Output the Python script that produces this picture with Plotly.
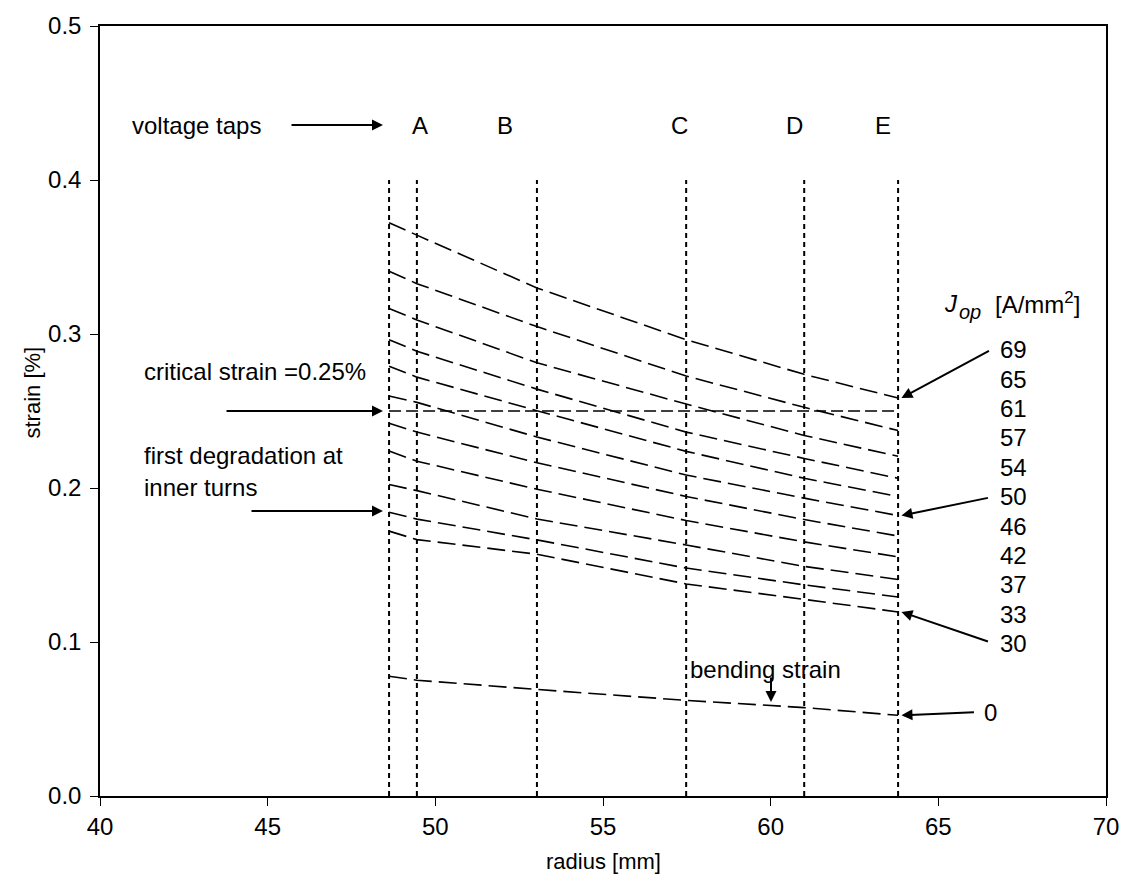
import plotly.graph_objects as go

# Radial positions (mm): winding start and voltage taps A-E
radius = [48.62, 49.45, 53.03, 57.48, 61.0, 63.8]
tap_lines = [48.62, 49.45, 53.03, 57.48, 61.0, 63.8]
tap_names = ["A", "B", "C", "D", "E"]
tap_label_x = [49.54, 52.08, 57.27, 60.70, 63.35]

# Operating current densities (A/mm^2) and strain (%) along the radius
j_op = [69, 65, 61, 57, 54, 50, 46, 42, 37, 33, 30]
strain_69 = [0.3723, 0.3642, 0.3299, 0.2963, 0.2738, 0.2584]
strain_65 = [0.3408, 0.3327, 0.3048, 0.2727, 0.2524, 0.2373]
strain_61 = [0.3166, 0.3091, 0.2813, 0.2545, 0.2341, 0.2206]
strain_57 = [0.2963, 0.2888, 0.2642, 0.2363, 0.2192, 0.2063]
strain_54 = [0.2791, 0.2720, 0.2502, 0.2238, 0.2063, 0.1945]
strain_50 = [0.2598, 0.2556, 0.2331, 0.2084, 0.1934, 0.1821]
strain_46 = [0.2421, 0.2363, 0.2164, 0.1945, 0.1795, 0.1688]
strain_42 = [0.2241, 0.2174, 0.1992, 0.1789, 0.1650, 0.1553]
strain_37 = [0.2023, 0.1983, 0.1799, 0.1630, 0.1491, 0.1406]
strain_33 = [0.1843, 0.1798, 0.1663, 0.1480, 0.1371, 0.1292]
strain_30 = [0.1720, 0.1665, 0.1570, 0.1377, 0.1277, 0.1195]
strain_0 = [0.0778, 0.0752, 0.0692, 0.0621, 0.0574, 0.0524]

critical_strain = 0.25
first_degradation = 0.185

curves = [strain_69, strain_65, strain_61, strain_57, strain_54, strain_50,
          strain_46, strain_42, strain_37, strain_33, strain_30]

FONT = "Liberation Sans, Arial, sans-serif"
BLACK = "#000000"
FS = 24

fig = go.Figure()

# voltage tap positions (dotted verticals)
vx, vy = [], []
for r in tap_lines:
    vx += [r, r, None]
    vy += [0, 0.4, None]
fig.add_trace(go.Scatter(x=vx, y=vy, mode="lines",
                         line=dict(color=BLACK, width=2, dash="5px,4px"),
                         hoverinfo="skip", showlegend=False))

# strain profiles for each operating current density
for j, s in zip(j_op, curves):
    fig.add_trace(go.Scatter(x=radius, y=s, mode="lines", name=f"{j} A/mm²",
                             line=dict(color=BLACK, width=1.6, dash="18px,7px"),
                             showlegend=False))
fig.add_trace(go.Scatter(x=radius, y=strain_0, mode="lines", name="0 A/mm²",
                         line=dict(color=BLACK, width=1.6, dash="18px,7px"),
                         showlegend=False))

# critical strain level
fig.add_trace(go.Scatter(x=[tap_lines[0], tap_lines[-1]],
                         y=[critical_strain, critical_strain], mode="lines",
                         line=dict(color=BLACK, width=1.6, dash="12px,5px"),
                         hoverinfo="skip", showlegend=False))

annotations = []
txt = dict(font=dict(family=FONT, size=FS, color=BLACK), showarrow=False)

annotations.append(dict(x=40.89, y=0.4357, text="voltage taps", xanchor="left", **txt))
for name, xl in zip(tap_names, tap_label_x):
    annotations.append(dict(x=xl, y=0.4357, text=name, **txt))
annotations.append(dict(x=41.25, y=0.2757, text="critical strain =0.25%", xanchor="left", **txt))
annotations.append(dict(x=41.25, y=0.2212, text="first degradation at", xanchor="left", **txt))
annotations.append(dict(x=41.25, y=0.2006, text="inner turns", xanchor="left", **txt))
annotations.append(dict(x=57.54, y=0.0823, text="bending strain", xanchor="left", **txt))

# J_op heading with a full-size lowered subscript
annotations.append(dict(x=65.10, y=0.3200, text="<i>J</i>", xanchor="left", **txt))
annotations.append(dict(x=65.57, y=0.3140, text="<i>op</i>", xanchor="left",
                        font=dict(family=FONT, size=20, color=BLACK), showarrow=False))
annotations.append(dict(x=66.62, y=0.3200, text="[A/mm<sup>2</sup>]", xanchor="left", **txt))

# current density labels on the right
label_y0, label_dy = 0.2898, 0.01909
for i, j in enumerate(j_op):
    annotations.append(dict(x=67.23, y=label_y0 - i * label_dy, text=str(j), **txt))
annotations.append(dict(x=66.55, y=0.0545, text="0", **txt))

# axis titles
annotations.append(dict(x=0, xref="paper", xshift=-67, y=0.262, yref="y",
                        text="strain [%]", textangle=-90, showarrow=False,
                        xanchor="center", yanchor="middle",
                        font=dict(family=FONT, size=22, color=BLACK)))
annotations.append(dict(x=0.5, xref="paper", y=-0.0848, yref="paper",
                        text="radius [mm]", showarrow=False,
                        xanchor="center", yanchor="middle",
                        font=dict(family=FONT, size=22, color=BLACK)))

arrow = dict(showarrow=True, arrowhead=2, arrowsize=1.1, arrowwidth=2,
             arrowcolor=BLACK, text="", axref="pixel", ayref="pixel")
annotations.append(dict(x=48.44, y=0.4357, ax=-93, ay=0, **arrow))
annotations.append(dict(x=48.44, y=critical_strain, ax=-158, ay=0, **arrow))
annotations.append(dict(x=48.44, y=first_degradation, ax=-133, ay=0, **arrow))
annotations.append(dict(x=63.9, y=strain_69[-1], ax=89, ay=-48, **arrow))
annotations.append(dict(x=63.9, y=strain_50[-1], ax=88, ay=-18, **arrow))
annotations.append(dict(x=63.9, y=strain_30[-1], ax=88, ay=30, **arrow))
annotations.append(dict(x=63.9, y=strain_0[-1], ax=74, ay=-3, **arrow))
annotations.append(dict(x=60.01, y=0.0611, ax=0, ay=-26, **arrow))

fig.update_layout(
    width=1132, height=883,
    margin=dict(l=100, r=26, t=18, b=87),
    paper_bgcolor="white", plot_bgcolor="white",
    font=dict(family=FONT, size=FS, color=BLACK),
    annotations=annotations,
    xaxis=dict(range=[40, 70], tickvals=[40, 45, 50, 55, 60, 65, 70],
               showgrid=False, zeroline=False, showline=True, linecolor=BLACK,
               linewidth=1.5, mirror=True, ticks="outside", ticklen=8,
               tickcolor=BLACK, tickwidth=1, tickfont=dict(size=FS)),
    yaxis=dict(range=[0, 0.5], tickvals=[0, 0.1, 0.2, 0.3, 0.4, 0.5],
               tickformat=".1f", showgrid=False, zeroline=False, showline=True,
               linecolor=BLACK, linewidth=1.5, mirror=True, ticks="outside",
               ticklen=8, tickcolor=BLACK, tickwidth=1, ticklabelstandoff=4,
               tickfont=dict(size=FS)),
)

fig.write_html("out.html")
